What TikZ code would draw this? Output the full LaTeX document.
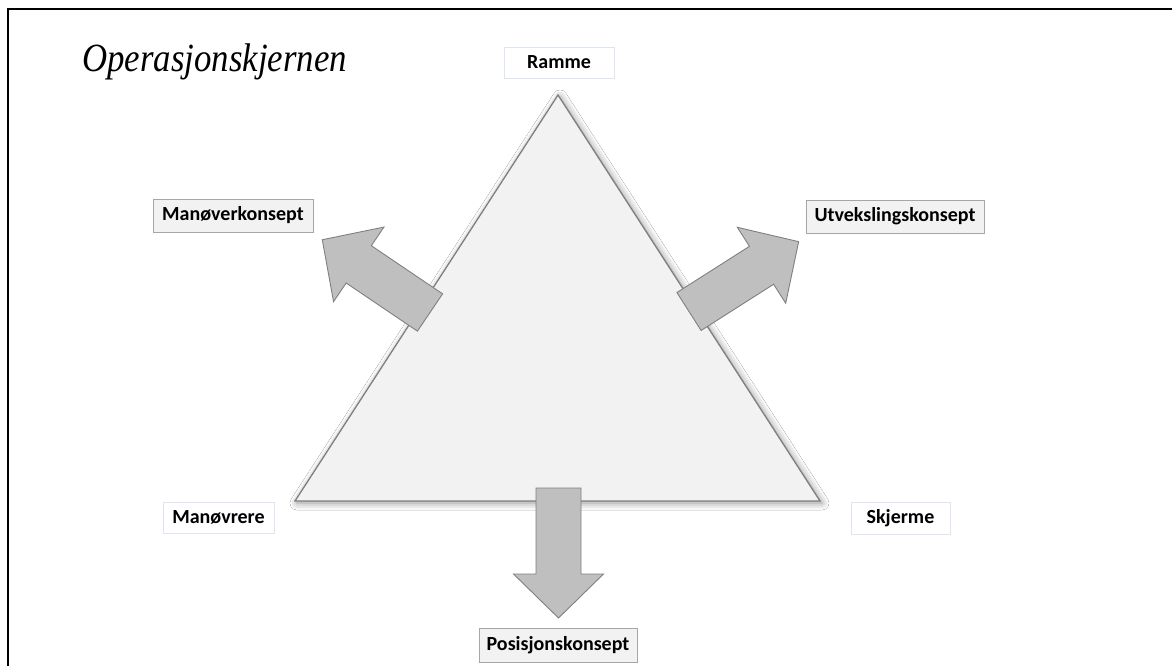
\documentclass[tikz,border=0pt]{standalone}
\usepackage{fontspec}
\setmainfont{Liberation Serif}
\newfontfamily\lblfont{Carlito}
\usetikzlibrary{shadows.blur}
\definecolor{trifill}{HTML}{F2F2F2}
\definecolor{triline}{HTML}{7F7F7F}
\definecolor{arrfill}{HTML}{BFBFBF}
\definecolor{arrline}{HTML}{808080}
\definecolor{boxgray}{HTML}{F2F2F2}
\definecolor{boxline}{HTML}{A6A6A6}
\definecolor{faintblue}{HTML}{DDE5F3}
\tikzset{
  lbl/.style={font=\lblfont\bfseries\fontsize{20}{24}\selectfont, text=black, inner sep=0pt, align=center},
  whitebox/.style={lbl, draw=faintblue, fill=white, line width=0.8pt},
  graybox/.style={lbl, draw=boxline, fill=boxgray, line width=0.8pt},
  arrowshape/.style={draw=arrline, fill=arrfill, line width=0.9pt, line join=miter},
  blockarrow/.pic={\draw[arrowshape] (0,-22.5) -- (86,-22.5) -- (86,-45) -- (130,0) -- (86,45) -- (86,22.5) -- (0,22.5) -- cycle;}
}
\begin{document}
\begin{tikzpicture}[x=1pt,y=-1pt]
\useasboundingbox (0,0) rectangle (1172,666);
\fill[white] (0,0) rectangle (1172,666);
% frame
\draw[line width=2.2pt] (1172,9) -- (8,9) -- (8,666);
% title
\node[anchor=base west, inner sep=0pt, xscale=0.87, font=\itshape\fontsize{40}{46}\selectfont] (title) at (82,72) {Operasjonskjernen};
% triangle
\draw[draw=triline, fill=trifill, line width=1.3pt, line join=miter,
  blur shadow={shadow xshift=2pt, shadow yshift=-2pt, shadow blur radius=7pt, shadow opacity=45}]
  (558,95) coordinate (apex) -- (820,501) coordinate (br) -- (295,501) coordinate (bl) -- cycle;
% arrows
\pic[rotate=145.96] (lefta) at (430,312.5) {blockarrow};
\pic[rotate=32.5] (righta) at (689,311.5) {blockarrow};
\pic[rotate=-90] (downa) at (558.5,488) {blockarrow};
% labels
\node[whitebox, minimum width=110pt, minimum height=31pt] (ramme) at (559,62.5) {Ramme};
\node[graybox, minimum width=160pt, minimum height=33pt] (manko) at (233,215.5) {Manøverkonsept};
\node[graybox, minimum width=178pt, minimum height=33pt] (utv) at (895,216.5) {Utvekslingskonsept};
\node[whitebox, minimum width=111pt, minimum height=31pt] (manv) at (218.5,517.5) {Manøvrere};
\node[whitebox, minimum width=99pt, minimum height=32pt] (skj) at (900.5,518) {Skjerme};
\node[graybox, minimum width=158pt, minimum height=34pt] (pos) at (558,645) {Posisjonskonsept};
\end{tikzpicture}
\end{document}
